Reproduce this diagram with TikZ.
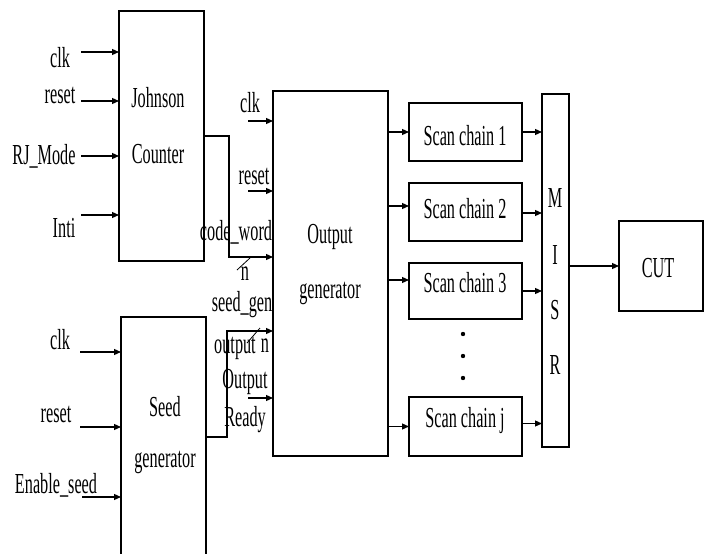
\documentclass[tikz,border=0pt]{standalone}
\usepackage{fontspec}
\setmainfont{Liberation Serif}[FakeStretch=0.56]
\usetikzlibrary{arrows.meta}
\begin{document}
\begin{tikzpicture}[x=1pt,y=-1pt,
  every node/.style={inner sep=0pt,outer sep=0pt},
  lbl/.style={font=\fontsize{29}{32}\selectfont},
  blk/.style={draw,line width=1.2pt,fill=white},
  wire/.style={line width=1.2pt},
  arr/.style={line width=1.2pt,-{Triangle[length=7pt,width=6pt]}}]
\clip (0,0) rectangle (710,554);
\fill[white] (0,0) rectangle (710,554);
% blocks
\node[blk,minimum width=85pt,minimum height=250pt] (jc) at (161.5,136) {};
\node[blk,minimum width=115pt,minimum height=365pt] (og) at (330.5,273.5) {};
\node[blk,minimum width=85pt,minimum height=240pt] (sg) at (163.5,437) {};
\node[blk,minimum width=113pt,minimum height=58pt] (sc1) at (465.5,132) {};
\node[blk,minimum width=113pt,minimum height=58pt] (sc2) at (465.5,212) {};
\node[blk,minimum width=113pt,minimum height=56pt] (sc3) at (465.5,291) {};
\node[blk,minimum width=113pt,minimum height=59pt] (scj) at (465.5,426.5) {};
\node[blk,minimum width=27pt,minimum height=353pt] (misr) at (555.5,270.5) {};
\node[blk,minimum width=84pt,minimum height=90pt] (cut) at (661,266) {};
% block texts
\node[lbl] (jct1) at (158,98) {Johnson};
\node[lbl] (jct2) at (158,154) {Counter};
\node[lbl] (ogt1) at (330,237) {Output};
\node[lbl] (ogt2) at (330,293) {generator};
\node[lbl] (sgt1) at (165,407) {Seed};
\node[lbl] (sgt2) at (165,462) {generator};
\node[lbl] (sc1t) at (465,136) {Scan chain 1};
\node[lbl] (sc2t) at (465,209) {Scan chain 2};
\node[lbl] (sc3t) at (465,283) {Scan chain 3};
\node[lbl] (scjt) at (465,421) {Scan chain j};
\node[lbl] (m1) at (555,198) {M};
\node[lbl] (m2) at (555,255) {I};
\node[lbl] (m3) at (555,310) {S};
\node[lbl] (m4) at (555,365) {R};
\node[lbl] (cutt) at (658,268) {CUT};
% input labels
\node[lbl] (l1) at (60,58) {clk};
\node[lbl] (l2) at (60,95) {reset};
\node[lbl] (l3) at (44,156) {RJ\_Mode};
\node[lbl] (l4) at (64,228) {Inti};
\node[lbl] (l5) at (250,103) {clk};
\node[lbl] (l6) at (254,176) {reset};
\node[lbl] (l7) at (236,232) {code\_word};
\node[lbl] (l8) at (245,274) {n};
\node[lbl] (l9) at (242,305) {seed\_gen};
\node[lbl] (l10) at (235,348) {output};
\node[lbl] (l11) at (265,346) {n};
\node[lbl] (l12) at (245,382) {Output};
\node[lbl] (l13) at (245,420) {Ready};
\node[lbl] (l14) at (60,340) {clk};
\node[lbl] (l15) at (56,414) {reset};
\node[lbl] (l16) at (56,485) {Enable\_seed};
% Johnson inputs
\draw[arr] ([xshift=-38pt,yshift=84pt]jc.west) -- ([yshift=84pt]jc.west);
\draw[arr] ([xshift=-38pt,yshift=35pt]jc.west) -- ([yshift=35pt]jc.west);
\draw[arr] ([xshift=-38pt,yshift=-20pt]jc.west) -- ([yshift=-20pt]jc.west);
\draw[arr] ([xshift=-38pt,yshift=-79pt]jc.west) -- ([yshift=-79pt]jc.west);
% Seed inputs
\draw[arr] ([xshift=-41pt,yshift=85pt]sg.west) -- ([yshift=85pt]sg.west);
\draw[arr] ([xshift=-41pt,yshift=10pt]sg.west) -- ([yshift=10pt]sg.west);
\draw[arr] ([xshift=-39pt,yshift=-60pt]sg.west) -- ([yshift=-60pt]sg.west);
% Output generator inputs
\draw[arr] ([xshift=-25pt,yshift=152.5pt]og.west) -- ([yshift=152.5pt]og.west);
\draw[arr] ([xshift=-25pt,yshift=82.5pt]og.west) -- ([yshift=82.5pt]og.west);
\draw[arr] ([xshift=-25pt,yshift=-124.5pt]og.west) -- ([yshift=-124.5pt]og.west);
\draw[arr] (jc.east) -- ++(25,0) |- ([yshift=16.5pt]og.west);
\draw[arr] (sg.east) -- ++(21,0) |- ([yshift=-57.5pt]og.west);
% bus slashes
\draw[wire,line width=0.8pt] (237,270) -- (250,258);
\draw[wire,line width=0.8pt] (247,343) -- (260,328);
% to scan chains
\draw[arr] (sc1.west -| og.east) -- (sc1.west);
\draw[arr] ([yshift=6pt]sc2.west -| og.east) -- ([yshift=6pt]sc2.west);
\draw[arr] ([yshift=11pt]sc3.west -| og.east) -- ([yshift=11pt]sc3.west);
\draw[arr] (scj.west -| og.east) -- (scj.west);
% to MISR
\draw[arr] (sc1.east) -- (sc1.east -| misr.west);
\draw[arr] ([yshift=-1pt]sc2.east) -- ([yshift=-1pt]sc2.east -| misr.west);
\draw[arr] (sc3.east) -- (sc3.east -| misr.west);
\draw[arr] ([yshift=3pt]scj.east) -- ([yshift=3pt]scj.east -| misr.west);
\draw[arr] (misr.east |- cut.west) -- (cut.west);
% dots
\fill (463,334) circle (2.2);
\fill (463,356) circle (2.2);
\fill (463,378) circle (2.2);
\end{tikzpicture}
\end{document}
